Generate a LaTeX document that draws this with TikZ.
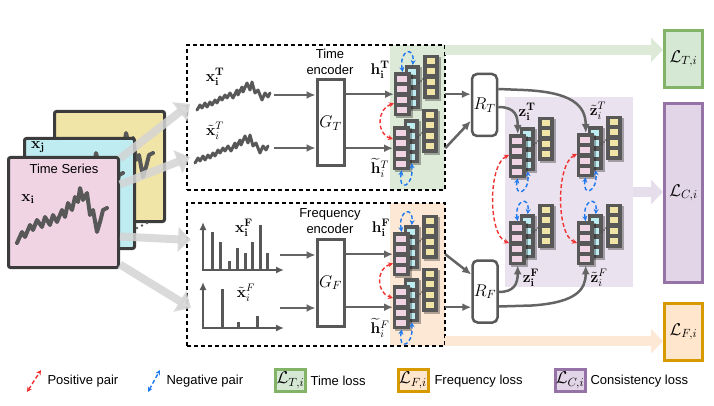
\RequirePackage{fix-cm}
\documentclass[tikz,border=0pt]{standalone}
\usepackage[no-math]{fontspec}
\setmainfont{Liberation Sans}
\usepackage{amsmath, amssymb}
\usetikzlibrary{arrows.meta, positioning, calc, shadows}

\definecolor{dgray}{RGB}{88,88,88}
\definecolor{agray}{RGB}{100,100,100}
\definecolor{cardline}{RGB}{60,60,60}
\definecolor{pinkc}{RGB}{240,212,228}
\definecolor{cyanc}{RGB}{190,236,240}
\definecolor{yelc}{RGB}{240,228,166}
\definecolor{gbgc}{RGB}{221,234,215}
\definecolor{obgc}{RGB}{252,232,212}
\definecolor{pbgc}{RGB}{234,226,238}
\definecolor{ltline}{RGB}{130,179,102}
\definecolor{ltfill}{RGB}{213,232,212}
\definecolor{lfline}{RGB}{215,155,0}
\definecolor{lffill}{RGB}{255,230,204}
\definecolor{lcline}{RGB}{150,115,166}
\definecolor{lcfill}{RGB}{225,213,231}
\definecolor{posc}{RGB}{240,50,50}
\definecolor{negc}{RGB}{30,120,240}
\definecolor{bigarrc}{RGB}{212,212,212}

% embedding stack: name, x, y of the pink column (top left)
\newcommand{\featblock}[3]{%
  \node[col, minimum width=16pt, anchor=north west] (#1y) at (#2+29,#3-17) {};
  \foreach \k in {0,...,3}
    \fill[yelc] ($(#1y.north west)+(4,3+10.3*\k)$) rectangle ++(8,6);
  \node[col, minimum width=15pt, anchor=north west] (#1c) at (#2+11,#3-7) {};
  \foreach \k in {0,...,3}
    \fill[cyanc] ($(#1c.north west)+(3,4+10.3*\k)$) rectangle ++(8,6);
  \foreach \q in {0,1,2}
    \fill[dgray!70!black] (#2+25+2*\q,#3+11-2*\q) circle (0.8);
  \node[col, minimum width=17pt, anchor=north west] (#1p) at (#2,#3) {};
  \foreach \k in {0,...,3}
    \fill[pinkc] ($(#1p.north west)+(3,4+10.3*\k)$) rectangle ++(10,6);
}

\begin{document}
\begin{tikzpicture}[x=1pt, y=-1pt, font=\fontsize{13}{15.6}\selectfont,
    card/.style={draw=cardline, line width=3pt, rounded corners=2pt, minimum width=110pt,
        minimum height=110pt, anchor=north west, inner sep=0pt},
    wave/.style={draw=dgray, line width=4pt, line join=round, line cap=round},
    col/.style={fill=dgray, inner sep=0pt, minimum height=44pt,
        drop shadow={shadow xshift=1.5pt, shadow yshift=-1.5pt, fill=black, opacity=.3}},
    encbox/.style={draw=dgray, line width=3pt, fill=white, minimum width=27pt, inner sep=0pt,
        font=\fontsize{17}{20}\selectfont},
    projbox/.style={draw=dgray, line width=2.5pt, fill=white, rounded corners=5pt,
        minimum width=25pt, minimum height=62pt, inner sep=0pt, font=\fontsize{17}{20}\selectfont},
    dbox/.style={draw, line width=1.3pt, dash pattern=on 4pt off 3pt, inner sep=0pt},
    bgbox/.style={inner sep=0pt},
    lossbox/.style={line width=3pt, inner sep=0pt, font=\fontsize{17}{20}\selectfont},
    arr/.style={draw=agray, line width=2.5pt, -{Latex[length=9pt,width=8pt]}},
    bigarr/.style={draw=bigarrc, line width=8pt, opacity=.85, -{Triangle[length=13pt,width=24pt]}},
    band/.style={line width=10pt, -{Triangle[length=12pt,width=24pt]}},
    posarr/.style={draw=posc, line width=1.4pt, dash pattern=on 4pt off 2.5pt,
        {Stealth[length=5pt,width=5pt]}-{Stealth[length=5pt,width=5pt]}},
    negarr/.style={posarr, draw=negc},
    specaxis/.style={draw=dgray, line width=2.5pt, -{Latex[length=8pt,width=7pt]}},
    specbar/.style={draw=dgray, line width=3pt},
    lbl/.style={inner sep=0pt, font=\fontsize{15.5}{18}\selectfont},
    tswave/.pic={\draw[wave] (0,0) -- (5,-11) -- (8,-6) -- (13,-18) -- (16,-13) -- (20,-23) -- (25,-16)
        -- (28,-26) -- (33,-18) -- (36,-28) -- (40,-21) -- (45,-33) -- (48,-26) -- (51,-40) -- (55,-33)
        -- (58,-46) -- (61,-41) -- (63,-55) -- (66,-43) -- (70,-50) -- (73,-28) -- (76,-33) -- (80,-11)
        -- (83,-21) -- (86,-33) -- (90,-35);},
    twave/.pic={\draw[wave, line width=3pt] (0,0) -- (3,-5) -- (5,-2) -- (8,-7) -- (10,-3) -- (13,-8)
        -- (15,-5) -- (18,-10) -- (20,-7) -- (23,-13) -- (25,-10) -- (28,-15) -- (30,-12) -- (33,-17)
        -- (36,-12) -- (40,-20) -- (41,-15) -- (45,-23) -- (46,-18) -- (50,-27) -- (53,-20) -- (55,-28)
        -- (58,-17) -- (61,-20) -- (65,-10) -- (68,-17) -- (71,-13) -- (73,-17);}]
\useasboundingbox (0,0) rectangle (714,406);

% time series stack
\node[card, fill=yelc] (tsk) at (53,110) {};
\pic at (63,188) {tswave};
\node[card, fill=cyanc] (tsj) at (23,137) {};
\pic at (33,208) {tswave};
\foreach \q in {0,1,2} \fill[dgray] (137+5*\q,228-2.5*\q) circle (1.3);
\node[card, fill=pinkc] (tsi) at (7,156) {};
\pic at (17,243) {tswave};
\node (tstxt) at (64,169) {Time Series};
\node[lbl] (lxi) at (28,199) {$\mathbf{x_i}$};
\node[lbl] (lxj) at (38,147) {$\mathbf{x_j}$};

% backgrounds and frames
\node[bgbox, fill=gbgc, minimum width=55pt, minimum height=145pt] (gbg) at (417.5,117.5) {};
\node[bgbox, fill=obgc, minimum width=55pt, minimum height=143pt] (obg) at (417.5,274.5) {};
\node[bgbox, fill=pbgc, minimum width=128pt, minimum height=190pt] (pbg) at (569,192) {};
\node[dbox, minimum width=258pt, minimum height=145pt] (tframe) at (316,117.5) {};
\node[dbox, minimum width=258pt, minimum height=143pt] (fframe) at (316,274.5) {};

% losses
\node[lossbox, draw=ltline, fill=ltfill, minimum width=38pt, minimum height=57pt] (LT) at (683.5,59) {$\mathcal{L}_{T,i}$};
\node[lossbox, draw=lcline, fill=lcfill, minimum width=38pt, minimum height=179pt] (LC) at (683.5,193) {$\mathcal{L}_{C,i}$};
\node[lossbox, draw=lfline, fill=lffill, minimum width=38pt, minimum height=57pt] (LF) at (683.5,332) {$\mathcal{L}_{F,i}$};
\coordinate (gband) at ([yshift=-5pt]gbg.north east);
\coordinate (oband) at ([yshift=5pt]obg.south east);
\draw[band, draw=gbgc] (gband) -- (gband -| LT.west);
\draw[band, draw=pbgc!70!lcfill] (pbg.east) -- (pbg.east -| LC.west);
\draw[band, draw=obgc] (oband) -- (oband -| LF.west);

% time inputs
\pic at (197,110) {twave};
\pic at (195,163) {twave};
\node[lbl] (lxT) at (215,77) {$\mathbf{x}_\mathbf{i}^\mathbf{T}$};
\node[lbl] (lxtT) at (215,131) {$\tilde{\mathbf{x}}_i^T$};

% frequency inputs
\draw[specaxis] (203,271.2) -- (203,222);
\draw[specaxis] (201.8,270) -- (284,270);
\foreach \bx/\by in {212/232, 220/242, 229/261, 237/248, 245/253, 252/242, 260/225, 267/253}
  \draw[specbar] (\bx,270) -- (\bx,\by);
\draw[specaxis] (203,329.2) -- (203,282);
\draw[specaxis] (201.8,328) -- (284,328);
\foreach \bx/\by in {222/289, 238/322, 257/316}
  \draw[specbar] (\bx,328) -- (\bx,\by);
\node[lbl] (lxF) at (244,228) {$\mathbf{x}_\mathbf{i}^\mathbf{F}$};
\node[lbl] (lxtF) at (246,293) {$\tilde{\mathbf{x}}_i^F$};

% encoders
\node[encbox, minimum height=86pt] (GT) at (330.5,123) {$G_T$};
\node[encbox, minimum height=87pt] (GF) at (330.5,282.5) {$G_F$};
\node[align=center] (GTtxt) at (330,62) {Time\\encoder};
\node[align=center] (GFtxt) at (330,221) {Frequency\\encoder};
\coordinate (xTend) at (274,95);
\coordinate (xtTend) at (274,148);
\coordinate (xFend) at (280,255);
\coordinate (xtFend) at (280,308);
\draw[arr] (xTend) -- (xTend -| GT.west);
\draw[arr] (xtTend) -- (xtTend -| GT.west);
\draw[arr] (xFend) -- (xFend -| GF.west);
\draw[arr] (xtFend) -- (xtFend -| GF.west);

% embeddings
\featblock{hT}{394}{72}
\featblock{htT}{393}{126}
\featblock{hF}{393}{232}
\featblock{htF}{393}{285}
\featblock{zT}{509}{134}
\featblock{ztT}{577}{133}
\featblock{zF}{509}{221}
\featblock{ztF}{577}{221}
\node[lbl] (lhT) at (380,70) {$\mathbf{h}_\mathbf{i}^\mathbf{T}$};
\node[lbl] (lhtT) at (380,168) {$\widetilde{\mathbf{h}}_i^T$};
\node[lbl] (lhF) at (381,228) {$\mathbf{h}_\mathbf{i}^\mathbf{F}$};
\node[lbl] (lhtF) at (380,328) {$\widetilde{\mathbf{h}}_i^F$};
\node[lbl] (lzT) at (527,112) {$\mathbf{z}_\mathbf{i}^\mathbf{T}$};
\node[lbl] (lztT) at (598,111) {$\tilde{\mathbf{z}}_i^T$};
\node[lbl] (lzF) at (531,278) {$\mathbf{z}_\mathbf{i}^\mathbf{F}$};
\node[lbl] (lztF) at (599,278) {$\tilde{\mathbf{z}}_i^F$};
\draw[arr] (hTp.west -| GT.east) -- (hTp.west);
\draw[arr] (htTp.west -| GT.east) -- (htTp.west);
\draw[arr] (hFp.west -| GF.east) -- (hFp.west);
\draw[arr] (htFp.west -| GF.east) -- (htFp.west);

% projection heads
\node[projbox] (RT) at (484.5,105) {$R_T$};
\node[projbox] (RF) at (485,291.5) {$R_F$};
\draw[arr] (hTp.east -| gbg.east) -- (hTp.east -| RT.west);
\draw[arr] (htTp.east -| gbg.east) -- ([yshift=-16pt]RT.west);
\draw[arr] (hFp.east -| obg.east) -- ([yshift=17pt]RF.west);
\draw[arr] (htFp.east -| obg.east) -- (htFp.east -| RF.west);
\draw[arr] ([yshift=-2pt]RT.east) .. controls +(18,0) and +(0,-17) .. (zTp.north);
\draw[arr] ([yshift=16pt]RT.east) -- ++(25,1) .. controls +(48,2) and +(0,-28) .. (ztTp.north);
\draw[arr] ([yshift=-0.5pt]RF.east) .. controls +(15,0) and +(0,19) .. (zFp.south);
\draw[arr] ([yshift=-15pt]RF.east) -- ++(33,-1) .. controls +(45,-3) and +(0,24) .. (ztFp.south);

% positive pairs
\draw[posarr] ([yshift=13pt]hTp.south west) .. controls +(-17,5) and +(-17,-5) .. ([yshift=-13pt]htTp.north west);
\draw[posarr] ([yshift=13pt]hFp.south west) .. controls +(-17,5) and +(-17,-5) .. ([yshift=-13pt]htFp.north west);
\draw[posarr] ([yshift=-21pt]zTp.north west) .. controls +(-21,10) and +(-21,-8) .. ([yshift=-22pt]zFp.north west);
\draw[posarr] ([yshift=-21pt]ztTp.north west) .. controls +(-21,10) and +(-21,-8) .. ([yshift=-22pt]ztFp.north west);

% negative pairs
\draw[negarr] (hTp.north) .. controls +(-4,-22) and +(2,-20) .. (hTc.north);
\draw[negarr] (htTp.south) .. controls +(-4,22) and +(2,24) .. (htTc.south);
\draw[negarr] (hFp.north) .. controls +(-4,-22) and +(2,-20) .. (hFc.north);
\draw[negarr] (htFp.south) .. controls +(-4,22) and +(2,24) .. (htFc.south);
\draw[negarr] (zTp.south) .. controls +(-4,20) and +(2,22) .. (zTc.south);
\draw[negarr] (zFp.north) .. controls +(-4,-20) and +(2,-20) .. (zFc.north);
\draw[negarr] (ztTp.south) .. controls +(-4,20) and +(2,22) .. (ztTc.south);
\draw[negarr] (ztFp.north) .. controls +(-4,-20) and +(2,-20) .. (ztFc.north);

% views
\coordinate (inxT) at (190,104);
\coordinate (inxtT) at (190,157);
\coordinate (inxF) at (191,240);
\coordinate (inxtF) at (191,308);
\draw[bigarr] ([yshift=54pt]tsi.east) -- (inxT);
\draw[bigarr] ([yshift=28pt]tsi.east) -- (inxtT);
\draw[bigarr] ([yshift=-24pt]tsi.east) -- (inxF);
\draw[bigarr] ([yshift=-52pt]tsi.east) -- (inxtF);

% legend
\coordinate (lgp1) at (27,392);
\coordinate (lgp2) at (41,370);
\draw[posarr] (lgp1) -- (lgp2);
\node[anchor=west] (lgpt) at (44,381) {Positive pair};
\coordinate (lgn1) at (148,392);
\coordinate (lgn2) at (160,370);
\draw[negarr] (lgn1) -- (lgn2);
\node[anchor=west] (lgnt) at (163,381) {Negative pair};
\node[lossbox, draw=ltline, fill=ltfill, minimum width=30pt, minimum height=22pt] (lgLT) at (290.5,380.5) {$\mathcal{L}_{T,i}$};
\node[anchor=west] (lgLTt) at (307,381) {Time loss};
\node[lossbox, draw=lfline, fill=lffill, minimum width=30pt, minimum height=22pt] (lgLF) at (413,380.5) {$\mathcal{L}_{F,i}$};
\node[anchor=west] (lgLFt) at (431,381) {Frequency loss};
\node[lossbox, draw=lcline, fill=lcfill, minimum width=30pt, minimum height=22pt] (lgLC) at (570,380.5) {$\mathcal{L}_{C,i}$};
\node[anchor=west] (lgLCt) at (587,381) {Consistency loss};
\end{tikzpicture}
\end{document}
